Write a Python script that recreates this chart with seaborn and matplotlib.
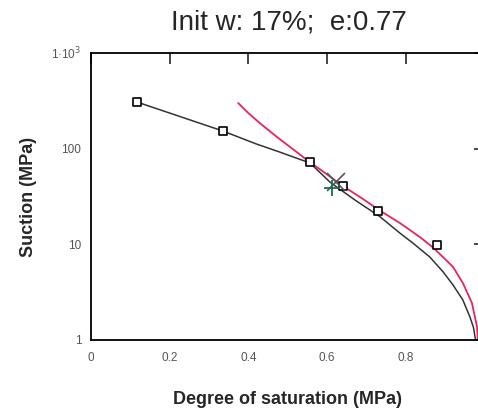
import matplotlib
matplotlib.use("Agg")
import matplotlib.pyplot as plt
import seaborn as sns
import numpy as np
import pandas as pd

# Data
meas_sr = [0.117, 0.335, 0.557, 0.640, 0.729, 0.879]
meas_suction = [307, 153, 72, 40.7, 22.3, 9.8]

black_sr = [0.117, 0.335, 0.420, 0.480, 0.557, 0.607, 0.671, 0.734, 0.785,
            0.818, 0.861, 0.895, 0.920, 0.945, 0.963, 0.972, 0.976, 0.978]
black_suction = [307, 153, 112, 92, 70.7, 44.8, 29, 19.5, 13.1,
                 10.3, 7.37, 5.14, 3.76, 2.62, 1.74, 1.35, 1.07, 1.0]

red_sr = [0.374, 0.400, 0.429, 0.470, 0.506, 0.549, 0.595, 0.640, 0.690, 0.732,
          0.785, 0.836, 0.870, 0.900, 0.920, 0.945, 0.968, 0.981, 0.983]
red_suction = [300, 235, 185, 135, 104, 76, 55.6, 40.7, 30, 22.8,
               16.7, 11.9, 9.2, 7.0, 5.8, 3.94, 2.44, 1.37, 1.0]

init_plus = (0.612, 39)
init_x = (0.622, 45)

xticks = [0, 0.2, 0.4, 0.6, 0.8]
xtick_labels = ["0", "0.2", "0.4", "0.6", "0.8"]
yticks = [1, 10, 100, 1000]
ytick_labels = ["1", "10", "100", "1·10$^3$"]

sns.set_style("white")
plt.rcParams['font.family'] = ['Liberation Sans', 'DejaVu Sans']

fig = plt.figure(figsize=(4.78, 4.08), dpi=100)
ax = fig.add_axes([0.1904, 0.1667, 0.8232, 0.7034])

sns.lineplot(x=black_sr, y=black_suction, sort=False, color="#333333", lw=1.1, ax=ax)
sns.lineplot(x=red_sr, y=red_suction, sort=False, color="#e8245c", lw=1.3, ax=ax)
sns.scatterplot(x=meas_sr, y=meas_suction, marker="s", s=40, facecolor="white",
                edgecolor="black", linewidth=1.2, ax=ax, zorder=5)
ax.plot([init_x[0]], [init_x[1]], marker="x", ms=13, mew=1.2, color="#555555", zorder=6)
ax.plot([init_plus[0]], [init_plus[1]], marker="+", ms=12, mew=1.3, color="#1a6e50", zorder=6)

ax.set_yscale("log")
ax.set_xlim(0, 1)
ax.set_ylim(1, 1000)
ax.set_xticks(xticks)
ax.set_xticklabels(xtick_labels)
ax.set_yticks(yticks)
ax.set_yticklabels(ytick_labels)
ax.minorticks_off()
ax.tick_params(direction="in", length=8, width=1.2, top=True, right=True,
               labelsize=8.5, labelcolor="#555555")
ax.tick_params(axis="x", pad=9)
ax.tick_params(axis="y", pad=7)
for s in ax.spines.values():
    s.set_linewidth(1.3)
    s.set_color("black")

ax.set_xlabel("Degree of saturation (MPa)", fontsize=13, fontweight="bold", labelpad=19)
ax.set_ylabel("Suction (MPa)", fontsize=13, fontweight="bold", labelpad=10)
fig.text(0.605, 0.946, "Init w: 17%;  e:0.77", fontsize=20, ha="center", va="center")

fig.savefig("out.png", dpi=100)
